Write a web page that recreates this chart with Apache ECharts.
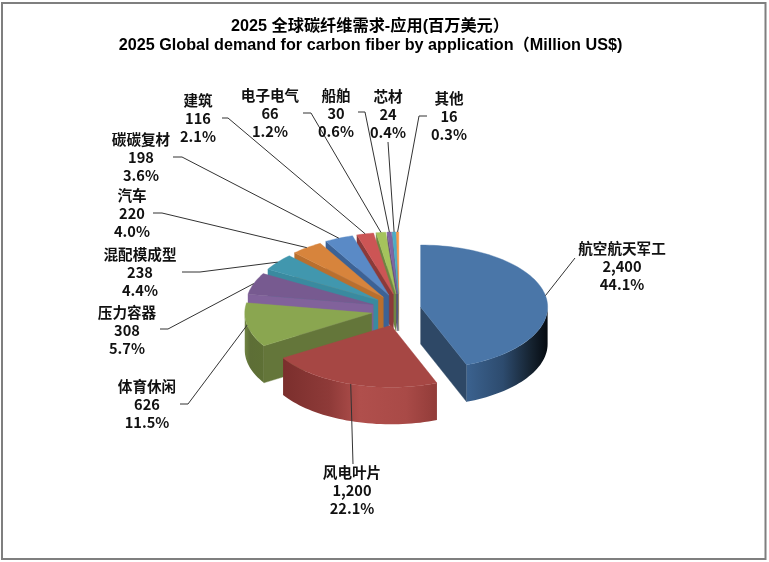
<!DOCTYPE html>
<html>
<head>
<meta charset="utf-8">
<style>html,body{margin:0;padding:0;background:#fff}#chart{width:769px;height:562px}</style>
<script src="https://cdn.jsdelivr.net/npm/echarts@6/dist/echarts.min.js"></script>
</head>
<body>
<div id="chart"></div>
<script>
// Carbon fiber demand by application, 2025
const categories = ['航空航天军工','风电叶片','体育休闲','压力容器','混配模成型','汽车','碳碳复材','建筑','电子电气','船舶','芯材','其他'];
const values = [2400,1200,626,308,238,220,198,116,66,30,24,16];
const titleLines = ['2025 全球碳纤维需求-应用(百万美元）','2025 Global demand for carbon fiber by application（Million US$)'];

// Face colours of each wedge
const topColors = ['#4a76a8','#a64744','#8aa650','#775a90','#4197ae','#d7843c','#5a8ac6','#cc5555','#a5c35c','#8064a2','#4bacc6','#f79646'];
const sideColors = ['#2e4866','#7b2f2d','#64763a','#81629b','#3a8a9f','#b96f2e','#3c6295','#8b3a3a','#6f8542','#5f4a7a','#37808f','#c07030'];
// Shading along the curved rim, left to right
const rimStops = {
  0: [[0,'#3b628f'],[0.45,'#2d4b6e'],[0.8,'#15222f'],[1,'#050a10']],
  1: [[0,'#7b2f2d'],[0.3,'#8e3a38'],[0.5,'#b04f4c'],[0.8,'#a94a47'],[1,'#923c39']],
  2: [[0,'#6f8342'],[0.3,'#5d6e36'],[1,'#5e7035']]
};

// Pie projection
const pieX = 395.5, pieY = 310, radiusX = 127, radiusY = 62, depth = 37;
const explodeX = 0.196, explodeY = 0.26, explodeSkew = 3.5;

// Label block centres and the elbow of each leader line
const labelCenters = [[622,248],[352,472],[147,386],[127,312],[140,254],[132,195],[141,139],[198,100],[270,95],[336,95],[388,96],[449,98]];
const leaderElbows = [[[575,258]],[[353,464]],[[188,404],[180,404]],[[168,329],[160,329]],[[200,272],[182,272]],[[162,213],[153,213]],[[182,157],[173,157]],[[228,118],[222,118]],[[311,113],[303,113]],[[365,112],[358,112]],[[388,142]],[[419,116],[427,116]]];
const paintOrder = [11,10,9,8,7,6,5,4,3,2,0,1];

const total = values.reduce((a,b)=>a+b,0);
const rad = d => d*Math.PI/180;

function arcPoints(cx, cy, from, to) {
  const pts = [], n = Math.max(2, Math.ceil((to-from)/2));
  for (let k=0;k<=n;k++) {
    const a = rad(from+(to-from)*k/n);
    pts.push([cx+radiusX*Math.sin(a), cy-radiusY*Math.cos(a)]);
  }
  return pts;
}
const drop = pts => pts.map(p=>[p[0],p[1]+depth]);

function renderWedge(params, api) {
  const i = params.dataIndex;
  const v = api.value(0);
  let before = 0;
  for (let k=0;k<i;k++) before += values[k];
  const a0 = before/total*360, a1 = (before+v)/total*360, mid = rad((a0+a1)/2);
  const cx = pieX + explodeX*radiusX*Math.sin(mid) + explodeSkew*Math.abs(Math.cos(mid));
  const cy = pieY - explodeY*radiusY*Math.cos(mid);
  const base = paintOrder.indexOf(i)*10;
  const kids = [];
  const poly = (points, fill, z) => kids.push({type:'polygon', z2:base+z, shape:{points}, style:{fill, stroke:fill, lineWidth:0.4}});

  // Radial cut faces that turn toward the viewer
  const pStart = arcPoints(cx,cy,a0,a0)[0], pEnd = arcPoints(cx,cy,a1,a1)[0];
  if (a0>=180) poly([[cx,cy],pStart,[pStart[0],pStart[1]+depth],[cx,cy+depth]], sideColors[i], 1);
  if (a1<=180) poly([[cx,cy],pEnd,[pEnd[0],pEnd[1]+depth],[cx,cy+depth]], sideColors[i], 1);

  // Curved rim on the front half of the ellipse
  const r0 = Math.max(a0,90), r1 = Math.min(a1,270);
  if (r1>r0) {
    const arc = arcPoints(cx,cy,r0,r1);
    const stops = (rimStops[i]||[[0,sideColors[i]],[1,sideColors[i]]]).map(s=>({offset:s[0],color:s[1]}));
    const fill = new echarts.graphic.LinearGradient(0,0,1,0,stops);
    kids.push({type:'polygon', z2:base+2, shape:{points:arc.concat(drop(arc).reverse())}, style:{fill}});
  }

  // Top face
  poly([[cx,cy]].concat(arcPoints(cx,cy,a0,a1)), topColors[i], 3);

  // Leader line and label
  const tip = [cx+radiusX*Math.sin(mid), cy-radiusY*Math.cos(mid)];
  kids.push({type:'polyline', z2:500, shape:{points:[tip].concat(leaderElbows[i])}, style:{fill:null, stroke:'#333', lineWidth:1}});
  const pct = (v/total*100).toFixed(1)+'%';
  const label = [categories[i], v.toLocaleString('en-US'), pct];
  label.forEach((t,k)=>kids.push({
    type:'text', z2:501, x:labelCenters[i][0], y:labelCenters[i][1]+k*18,
    style:{text:t, textAlign:'center', textVerticalAlign:'middle', fill:'#111', font:'bold 14.6px "Noto Sans CJK SC","Noto Sans",sans-serif'}
  }));
  return {type:'group', children:kids};
}

const titleFont = {fontFamily:'"Liberation Sans","Noto Sans CJK SC",sans-serif', fontWeight:'bold', fontSize:16.2, color:'#000'};
const chart = echarts.init(document.getElementById('chart'));
chart.setOption({
  animation:false,
  backgroundColor:'#fff',
  title:[
    {text:titleLines[0], left:370, top:18, textAlign:'center', padding:0, textStyle:titleFont},
    {text:titleLines[1], left:370.5, top:37, textAlign:'center', padding:0, textStyle:titleFont}
  ],
  graphic:[{type:'rect', silent:true, z:-1, shape:{x:2,y:3,width:763.5,height:556}, style:{fill:'#fff', stroke:'#7f7f7f', lineWidth:2}}],
  series:[{type:'custom', coordinateSystem:'none', silent:true, renderItem:renderWedge, data:values.map(v=>[v])}]
});
</script>
</body>
</html>
